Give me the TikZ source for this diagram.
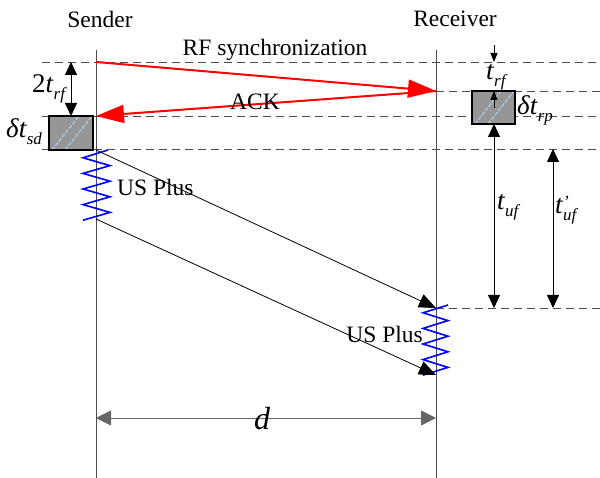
\documentclass[tikz,border=0pt]{standalone}
\usepackage{fontspec}
\setmainfont{Liberation Serif}
\usetikzlibrary{arrows.meta, positioning}
\definecolor{sigRed}{RGB}{255, 0, 0}
\definecolor{usBlue}{RGB}{0, 0, 255}
\definecolor{hatchBlue}{RGB}{175, 205, 235}
\definecolor{boxGray}{RGB}{150, 150, 150}
\newcommand{\lblfont}{\fontsize{23.5}{28}\selectfont}
\newcommand{\mfont}{\fontsize{27}{30}\selectfont}
\newcommand{\subfont}{\fontsize{17}{17}\selectfont}
\newcommand{\tsub}[2]{\textit{#1}\raisebox{-7pt}{\subfont\textit{#2}}}
\tikzset{
    lifeLine/.style={line width=0.9pt, black!70},
    levelLine/.style={line width=0.9pt, black!70, dash pattern=on 8pt off 5pt},
    rfArrow/.style={line width=2pt, sigRed, -{Triangle[length=28pt, width=18pt]}},
    usArrow/.style={line width=0.8pt, black, -{Triangle[length=17pt, width=14pt]}},
    usPulse/.style={line width=1.6pt, usBlue},
    timeArrow/.style={line width=0.8pt, black,
        {Triangle[length=13pt, width=12pt]}-{Triangle[length=13pt, width=12pt]}},
    tinyArrow/.style={line width=0.8pt, black, -{Triangle[length=9pt, width=7pt]}},
    distArrow/.style={line width=0.9pt, black!60,
        {Triangle[length=15pt, width=15pt]}-{Triangle[length=15pt, width=15pt]}},
    procBox/.style={draw=black, line width=1.3pt, fill=boxGray, inner sep=0pt,
        path picture={
            \draw[hatchBlue, line width=1.2pt, dash pattern=on 4pt off 1.5pt]
                ([xshift=3pt]path picture bounding box.south west)
                -- ([xshift=-14pt]path picture bounding box.north east);
            \draw[hatchBlue, line width=1.2pt, dash pattern=on 4pt off 1.5pt]
                ([xshift=16pt]path picture bounding box.south west)
                -- ([xshift=-1pt]path picture bounding box.north east);
        }},
    txt/.style={font=\lblfont, inner sep=0pt},
    mathLbl/.style={font=\mfont, inner sep=0pt},
}

\begin{document}
\begin{tikzpicture}[x=1pt, y=-1pt]
    \useasboundingbox (0,0) rectangle (600,478);

    % Level lines
    \draw[levelLine] (42,62) -- (600,62);
    \draw[levelLine] (436,91) -- (600,91);
    \draw[levelLine] (42,116) -- (600,116);
    \draw[levelLine] (42,149) -- (600,149);
    \draw[levelLine] (436,308) -- (600,308);

    % Life lines
    \node[txt] (sender) at (100,19) {Sender};
    \node[txt] (receiver) at (455,19) {Receiver};
    \coordinate (sTop) at (96,50);
    \coordinate (sBot) at (96,478);
    \coordinate (rTop) at (436,50);
    \coordinate (rBot) at (436,478);
    \draw[lifeLine] (sTop) -- (sBot);
    \draw[lifeLine] (rTop) -- (rBot);

    % Processing boxes
    \node[procBox, minimum width=44pt, minimum height=34pt] (sdBox) at (71,133) {};
    \node[procBox, minimum width=43pt, minimum height=33pt] (rpBox) at (493.5,107.5) {};

    % RF synchronization and ACK
    \coordinate (rfOut) at (96,62);
    \coordinate (rfIn) at (436,91);
    \coordinate (ackIn) at (96,116);
    \draw[rfArrow] (rfOut) -- (rfIn);
    \draw[rfArrow] (rfIn) -- (ackIn);
    \node[txt] (rfLbl) at (275,50) {RF synchronization};
    \node[txt] (ackLbl) at (255,102) {ACK};

    % US pulses
    \draw[usPulse] (108,150)
        foreach \k in {1,3,5,7} { -- (83,150+7.8*\k) -- (110,157.8+7.8*\k) }
        -- (83,220.2);
    \draw[usPulse] (448,305)
        foreach \k in {1,3,5,7} { -- (423,305+7.8*\k) -- (448,312.8+7.8*\k) }
        -- (423,375.2);
    \coordinate (usOut1) at (96,150);
    \coordinate (usOut2) at (96,219);
    \coordinate (usIn1) at (436,308);
    \coordinate (usIn2) at (436,375);
    \draw[usArrow] (usOut1) -- (usIn1);
    \draw[usArrow] (usOut2) -- (usIn2);
    \node[txt, anchor=west] (usLbl1) at (117,187) {US Plus};
    \node[txt, anchor=east] (usLbl2) at (423,334) {US Plus};

    % Sender timing
    \coordinate (twoTop) at (71,62);
    \coordinate (twoBot) at (71,116);
    \draw[timeArrow] (twoTop) -- (twoBot);
    \node[mathLbl, anchor=base west] (twoLbl) at (32,93) {2\tsub{t}{rf}};
    \node[mathLbl, anchor=base west] (sdLbl) at (6,138) {\tsub{δt}{sd}};

    % Receiver timing
    \coordinate (trfA) at (494,45);
    \coordinate (trfB) at (494,62);
    \coordinate (trfC) at (494,108);
    \coordinate (trfD) at (494,91);
    \draw[tinyArrow] (trfA) -- (trfB);
    \draw[tinyArrow] (trfC) -- (trfD);
    \node[mathLbl, anchor=base west] (trfLbl) at (486,80) {\tsub{t}{rf}};
    \node[mathLbl, anchor=base west] (rpLbl) at (517,115) {\tsub{δt}{rp}};

    \coordinate (tufTop) at (494,124);
    \coordinate (tufBot) at (494,308);
    \coordinate (tufpTop) at (553,149);
    \coordinate (tufpBot) at (553,308);
    \draw[timeArrow] (tufTop) -- (tufBot);
    \draw[timeArrow] (tufpTop) -- (tufpBot);
    \node[mathLbl, anchor=base west] (tufLbl) at (497,210) {\tsub{t}{uf}};
    \node[mathLbl, anchor=base west] (tufpLbl) at (555,214)
        {\textit{t}\raisebox{-7pt}{\subfont\shortstack[l]{\textit{'}\\[-1pt]\textit{uf}}}};

    % Distance
    \coordinate (dL) at (96,418);
    \coordinate (dR) at (436,418);
    \draw[distArrow] (dL) -- (dR);
    \node[font=\fontsize{32}{34}\selectfont\itshape, inner sep=0pt] (dLbl) at (262,419) {d};

\end{tikzpicture}
\end{document}
